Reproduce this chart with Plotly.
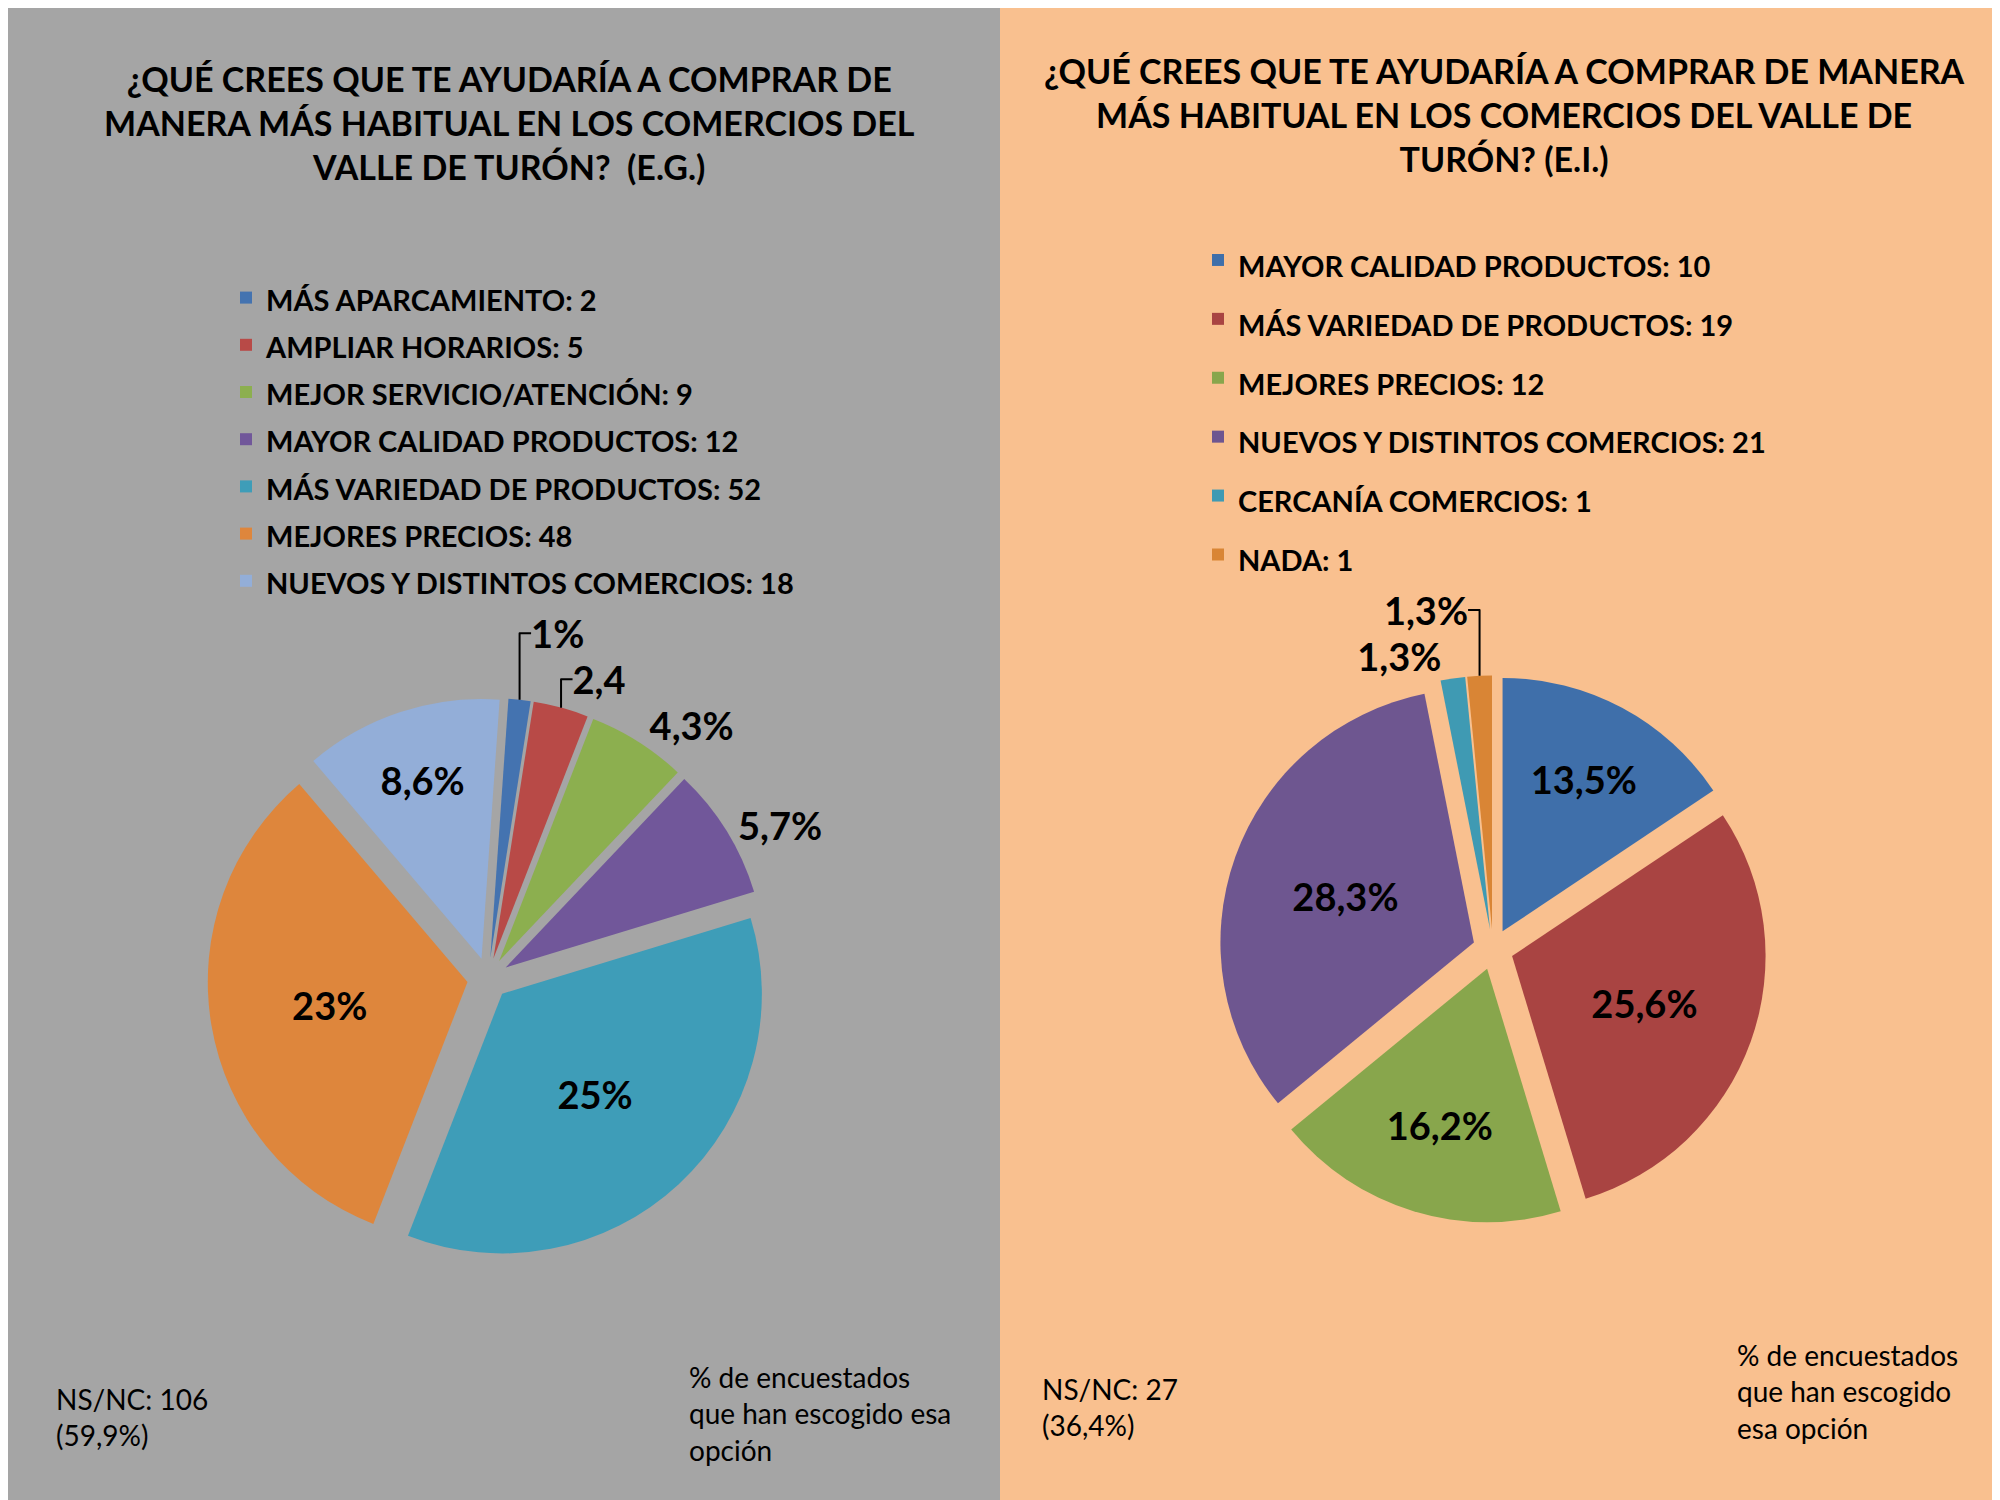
import plotly.graph_objects as go

# left chart (E.G.)
eg_labels = ['MÁS APARCAMIENTO: 2', 'AMPLIAR HORARIOS: 5', 'MEJOR SERVICIO/ATENCIÓN: 9',
             'MAYOR CALIDAD PRODUCTOS: 12', 'MÁS VARIEDAD DE PRODUCTOS: 52',
             'MEJORES PRECIOS: 48', 'NUEVOS Y DISTINTOS COMERCIOS: 18']
eg_values = [2, 5, 9, 12, 52, 48, 18]
eg_text = ['1%', '2,4', '4,3%', '5,7%', '25%', '23%', '8,6%']
eg_colors = ['#4473B0', '#B84A47', '#8CAF4F', '#71579A', '#3E9DB8', '#DE863C', '#93AED8']
eg_textpos = ['outside', 'outside', 'outside', 'outside', 'inside', 'inside', 'inside']

# right chart (E.I.)
ei_labels = ['MAYOR CALIDAD PRODUCTOS: 10', 'MÁS VARIEDAD DE PRODUCTOS: 19', 'MEJORES PRECIOS: 12',
             'NUEVOS Y DISTINTOS COMERCIOS: 21', 'CERCANÍA COMERCIOS: 1', 'NADA: 1']
ei_values = [10, 19, 12, 21, 1, 1]
ei_text = ['13,5%', '25,6%', '16,2%', '28,3%', '1,3%', '1,3%']
ei_colors = ['#3F6FAA', '#A94442', '#88A64C', '#6E5690', '#3F9AB3', '#D98535']
ei_textpos = ['inside', 'inside', 'inside', 'inside', 'outside', 'outside']

FONT = 'Lato, Open Sans, sans-serif'


def legend_label(s):
    # keep the text small while the legend font sets the row spacing
    return f'<span style="font-size:29px">{s}</span>'


fig = go.Figure()

fig.add_trace(go.Pie(labels=[legend_label(l) for l in eg_labels], values=eg_values,
                     text=eg_text, textinfo='text', textposition=eg_textpos,
                     insidetextorientation='horizontal',
                     textfont=dict(family=FONT, size=38, color='black', weight='bold'),
                     marker=dict(colors=eg_colors, line=dict(width=0)),
                     sort=False, direction='clockwise', rotation=4,
                     pull=[0.08] * len(eg_values),
                     domain=dict(x=[0.0, 0.48], y=[0.166, 0.54]),
                     hoverinfo='label+value', legend='legend'))

fig.add_trace(go.Pie(labels=[legend_label(l) for l in ei_labels], values=ei_values,
                     text=ei_text, textinfo='text', textposition=ei_textpos,
                     insidetextorientation='horizontal',
                     textfont=dict(family=FONT, size=38, color='black', weight='bold'),
                     marker=dict(colors=ei_colors, line=dict(width=0)),
                     sort=False, direction='clockwise', rotation=0,
                     pull=[0.08] * len(ei_values),
                     domain=dict(x=[0.54, 0.945], y=[0.19, 0.555]),
                     hoverinfo='label+value', legend='legend2'))

title_font = dict(family=FONT, size=34, color='black', weight='bold')
note_font = dict(family=FONT, size=28, color='black')

fig.update_layout(
    width=2000, height=1500,
    margin=dict(l=0, r=0, t=0, b=0, autoexpand=False),
    paper_bgcolor='#A5A5A5',
    plot_bgcolor='rgba(0,0,0,0)',
    legend=dict(x=0.109, y=0.826, xanchor='left', yanchor='top',
                font=dict(family=FONT, size=34, color='black', weight='bold'),
                bgcolor='rgba(0,0,0,0)'),
    legend2=dict(x=0.595, y=0.855, xanchor='left', yanchor='top',
                 font=dict(family=FONT, size=43, color='black', weight='bold'),
                 bgcolor='rgba(0,0,0,0)'),
    shapes=[dict(type='rect', xref='paper', yref='paper', x0=0.496, x1=1, y0=0, y1=1,
                 fillcolor='#F9C08F', line=dict(width=0), layer='below')],
    annotations=[
        dict(text='¿QUÉ CREES QUE TE AYUDARÍA A COMPRAR DE<br>MANERA MÁS HABITUAL EN LOS COMERCIOS DEL<br>VALLE DE TURÓN?  (E.G.)',
             x=0.2505, y=1 - 48 / 1500, xref='paper', yref='paper', xanchor='center', yanchor='top',
             showarrow=False, font=title_font, align='center'),
        dict(text='¿QUÉ CREES QUE TE AYUDARÍA A COMPRAR DE MANERA<br>MÁS HABITUAL EN LOS COMERCIOS DEL VALLE DE<br>TURÓN? (E.I.)',
             x=0.748, y=1 - 40 / 1500, xref='paper', yref='paper', xanchor='center', yanchor='top',
             showarrow=False, font=title_font, align='center'),
        dict(text='NS/NC: 106<br>(59,9%)', x=46 / 2000, y=1 - 1372 / 1500, xref='paper', yref='paper',
             xanchor='left', yanchor='top', showarrow=False, font=note_font, align='left'),
        dict(text='% de encuestados<br>que han escogido esa<br>opción', x=679 / 2000, y=1 - 1350 / 1500,
             xref='paper', yref='paper', xanchor='left', yanchor='top', showarrow=False,
             font=note_font, align='left'),
        dict(text='NS/NC: 27<br>(36,4%)', x=1032 / 2000, y=1 - 1362 / 1500, xref='paper', yref='paper',
             xanchor='left', yanchor='top', showarrow=False, font=note_font, align='left'),
        dict(text='% de encuestados<br>que han escogido<br>esa opción', x=1727 / 2000, y=1 - 1328 / 1500,
             xref='paper', yref='paper', xanchor='left', yanchor='top', showarrow=False,
             font=note_font, align='left'),
    ],
)

fig.write_html("out.html")
